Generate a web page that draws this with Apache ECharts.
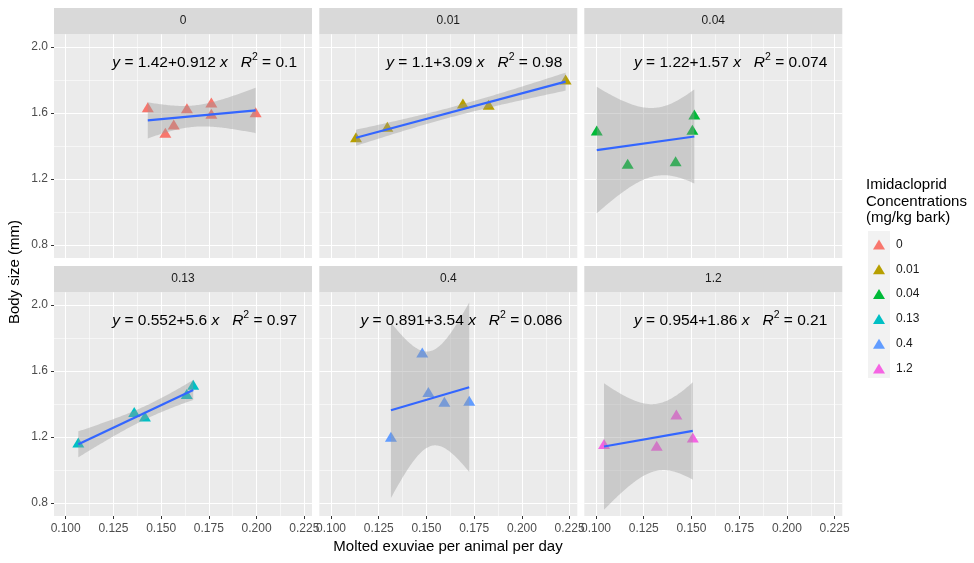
<!DOCTYPE html>
<html><head><meta charset="utf-8">
<script src="https://cdn.jsdelivr.net/npm/echarts@6/dist/echarts.min.js"></script>
<style>html,body{margin:0;padding:0;background:#fff}#c{width:974px;height:563px}</style>
</head><body><div id="c"></div>
<script>
// ---------- data ----------
const panels = ['0', '0.01', '0.04', '0.13', '0.4', '1.2'];
const colors = ['#F8766D', '#B79F00', '#00BA38', '#00BFC4', '#619CFF', '#F564E3'];

const x_p0   = [0.1430, 0.1522, 0.1566, 0.1635, 0.1763, 0.1763, 0.1995];
const y_p0   = [1.623, 1.469, 1.519, 1.617, 1.652, 1.584, 1.594];
const x_p001 = [0.1131, 0.1295, 0.1691, 0.1826, 0.2229];
const y_p001 = [1.442, 1.505, 1.647, 1.639, 1.792];
const x_p004 = [0.1004, 0.1166, 0.1417, 0.1515, 0.1505];
const y_p004 = [1.483, 1.281, 1.297, 1.580, 1.487];
const x_p013 = [0.1066, 0.1359, 0.1415, 0.1634, 0.1668];
const y_p013 = [1.156, 1.341, 1.313, 1.450, 1.505];
const x_p04  = [0.1314, 0.1478, 0.1510, 0.1594, 0.1724];
const y_p04  = [1.190, 1.701, 1.462, 1.402, 1.408];
const x_p12  = [0.1042, 0.1318, 0.1421, 0.1507];
const y_p12  = [1.147, 1.135, 1.325, 1.186];

const eqIntercept = ['1.42', '1.1', '1.22', '0.552', '0.891', '0.954'];
const eqSlope     = ['0.912', '3.09', '1.57', '5.6', '3.54', '1.86'];
const eqR2        = ['0.1', '0.98', '0.074', '0.97', '0.086', '0.21'];

const xTicks = [0.100, 0.125, 0.150, 0.175, 0.200, 0.225];
const xMinor = [0.1125, 0.1375, 0.1625, 0.1875, 0.2125];
const yTicks = [0.8, 1.2, 1.6, 2.0];
const yMinor = [1.0, 1.4, 1.8];

const xTitle = 'Molted exuviae per animal per day';
const yTitle = 'Body size (mm)';
const legendTitle = 'Imidacloprid\nConcentrations\n(mg/kg bark)';

// ---------- layout ----------
const XMIN = 0.09387, XMAX = 0.22902, YMIN = 0.7203, YMAX = 2.076;
const colLeft = [54, 319.3, 584.3], panelW = 258;
const stripTop = [8, 266], stripH = 26.3;
const plotTop = [34.3, 292.3], plotH = 223.7;
const FONT = 'Liberation Sans, Arial, sans-serif';

const xs = [x_p0, x_p001, x_p004, x_p013, x_p04, x_p12];
const ys = [y_p0, y_p001, y_p004, y_p013, y_p04, y_p12];

// linear model fit + 95% confidence band (as geom_smooth(method='lm'))
const T975 = {1: 12.706, 2: 4.303, 3: 3.182, 4: 2.776, 5: 2.571, 6: 2.447, 7: 2.365, 8: 2.306};
function fitPanel(x, y) {
  const n = x.length;
  const mx = x.reduce((a, b) => a + b, 0) / n;
  const my = y.reduce((a, b) => a + b, 0) / n;
  let sxx = 0, sxy = 0;
  for (let i = 0; i < n; i++) { sxx += (x[i] - mx) ** 2; sxy += (x[i] - mx) * (y[i] - my); }
  const b = sxy / sxx, a = my - b * mx;
  let sse = 0;
  for (let i = 0; i < n; i++) sse += (y[i] - a - b * x[i]) ** 2;
  const s = Math.sqrt(sse / (n - 2)), t = T975[n - 2];
  const lo = Math.min(...x), hi = Math.max(...x);
  const band = [];
  for (let k = 0; k < 80; k++) {
    const xv = lo + (hi - lo) * k / 79;
    const yh = a + b * xv;
    const se = s * Math.sqrt(1 / n + (xv - mx) ** 2 / sxx);
    band.push([xv, yh - t * se, yh + t * se]);
  }
  return {a, b, lo, hi, band};
}

const grids = [], xAxes = [], yAxes = [], series = [], graphics = [];
const tickColor = '#333333', labelColor = '#4D4D4D';

panels.forEach((p, i) => {
  const col = i % 3, row = Math.floor(i / 3);
  grids.push({left: colLeft[col], top: plotTop[row], width: panelW, height: plotH,
    show: true, backgroundColor: '#EBEBEB', borderWidth: 0});
  // major x
  xAxes.push({type: 'value', gridIndex: i, min: XMIN, max: XMAX, position: 'bottom',
    axisLine: {show: false},
    axisTick: {show: row === 1, length: 3, lineStyle: {color: tickColor, width: 1}, customValues: xTicks},
    axisLabel: {show: row === 1, customValues: xTicks, formatter: v => v.toFixed(3),
      color: labelColor, fontSize: 12, margin: 7, fontFamily: FONT},
    splitLine: {show: true, lineStyle: {color: '#FFFFFF', width: 1.1}}});
  // minor x
  xAxes.push({type: 'value', gridIndex: i, min: XMIN, max: XMAX, position: 'top',
    axisLine: {show: false}, axisTick: {show: false, customValues: xMinor},
    axisLabel: {show: false, customValues: xMinor},
    splitLine: {show: true, lineStyle: {color: '#FFFFFF', width: 0.55}}});
  // major y
  yAxes.push({type: 'value', gridIndex: i, min: YMIN, max: YMAX, position: 'left',
    axisLine: {show: false},
    axisTick: {show: col === 0, length: 3, lineStyle: {color: tickColor, width: 1}, customValues: yTicks},
    axisLabel: {show: col === 0, customValues: yTicks, formatter: v => v.toFixed(1),
      color: labelColor, fontSize: 12, margin: 6, fontFamily: FONT},
    splitLine: {show: true, lineStyle: {color: '#FFFFFF', width: 1.1}}});
  // minor y
  yAxes.push({type: 'value', gridIndex: i, min: YMIN, max: YMAX, position: 'right',
    axisLine: {show: false}, axisTick: {show: false, customValues: yMinor},
    axisLabel: {show: false, customValues: yMinor},
    splitLine: {show: true, lineStyle: {color: '#FFFFFF', width: 0.55}}});

  const f = fitPanel(xs[i], ys[i]);

  series.push({type: 'scatter', name: p, xAxisIndex: 2 * i, yAxisIndex: 2 * i,
    data: xs[i].map((v, k) => [v, ys[i][k]]),
    symbol: 'triangle', symbolSize: [12, 10], symbolOffset: [0, -1.7],
    itemStyle: {color: colors[i], opacity: 1}, z: 2, silent: true});

  series.push({type: 'custom', xAxisIndex: 2 * i, yAxisIndex: 2 * i, z: 3, silent: true,
    data: [[f.lo, f.a + f.b * f.lo]], encode: {x: 0, y: 1},
    renderItem: (params, api) => {
      const up = f.band.map(q => api.coord([q[0], q[2]]));
      const dn = f.band.slice().reverse().map(q => api.coord([q[0], q[1]]));
      return {type: 'polygon', shape: {points: up.concat(dn)},
        style: {fill: 'rgba(153,153,153,0.4)'}};
    }});

  series.push({type: 'line', xAxisIndex: 2 * i, yAxisIndex: 2 * i, z: 4, silent: true,
    data: [[f.lo, f.a + f.b * f.lo], [f.hi, f.a + f.b * f.hi]],
    showSymbol: false, symbol: 'none', lineStyle: {color: '#3366FF', width: 2.2}});

  // strip
  graphics.push({type: 'rect', left: colLeft[col], top: stripTop[row],
    shape: {width: panelW, height: stripH}, style: {fill: '#D9D9D9'}, silent: true});
  graphics.push({type: 'text', x: colLeft[col] + panelW / 2, y: stripTop[row] + stripH / 2,
    style: {text: p, fill: '#1A1A1A', fontSize: 12, fontFamily: FONT,
      align: 'center', verticalAlign: 'middle'}, silent: true});
  // equation
  graphics.push({type: 'text', z: 100, x: colLeft[col] + panelW - 15, y: plotTop[row] + 28,
    style: {
      text: `{i|y} = ${eqIntercept[i]}+${eqSlope[i]} {i|x}   {i|R}{s|2} = ${eqR2[i]}`,
      align: 'right', verticalAlign: 'middle', fill: '#000', fontSize: 15.5, fontFamily: FONT,
      rich: {
        i: {fontStyle: 'italic', fontSize: 15.5, fontFamily: FONT},
        s: {fontSize: 10.5, verticalAlign: 'top', lineHeight: 22, fontFamily: FONT}
      }
    }, silent: true});
});

// axis titles
graphics.push({type: 'text', x: 448, y: 547, style: {text: xTitle, fill: '#000', fontSize: 15,
  fontFamily: FONT, align: 'center', verticalAlign: 'middle'}, silent: true});
graphics.push({type: 'text', x: 15, y: 272, rotation: Math.PI / 2, style: {text: yTitle, fill: '#000', fontSize: 15,
  fontFamily: FONT, align: 'center', verticalAlign: 'middle'}, silent: true});
// legend title and key background
graphics.push({type: 'text', x: 866, y: 177, style: {text: legendTitle, fill: '#000', fontSize: 15, lineHeight: 16.5,
  fontFamily: FONT, align: 'left', verticalAlign: 'top'}, silent: true});
graphics.push({type: 'rect', left: 868, top: 231, shape: {width: 22, height: 147}, style: {fill: '#F2F2F2'}, silent: true, z: -1});

const chart = echarts.init(document.getElementById('c'), null, {renderer: 'canvas'});
chart.setOption({
  animation: false,
  backgroundColor: '#FFFFFF',
  grid: grids, xAxis: xAxes, yAxis: yAxes, series: series,
  legend: {orient: 'vertical', left: 873, top: 237.5, padding: 0, itemWidth: 12, itemHeight: 10, itemGap: 10.8,
    selectedMode: false, data: panels.map(p => ({name: p, icon: 'triangle'})),
    textStyle: {fontSize: 12, color: '#1A1A1A', lineHeight: 14, padding: [0, 0, 0, 6], fontFamily: FONT}},
  graphic: graphics
});
</script></body></html>
